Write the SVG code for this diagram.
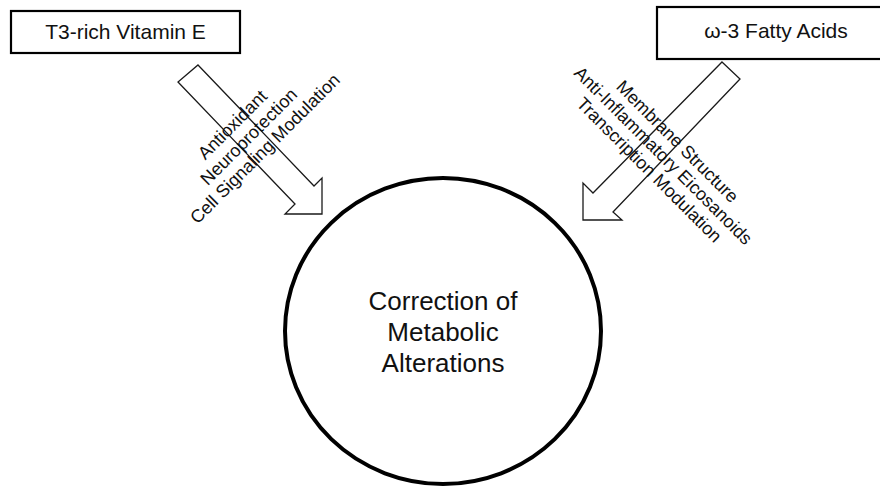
<svg xmlns="http://www.w3.org/2000/svg" width="880" height="488" viewBox="0 0 880 488">
  <style>
    .box { fill: #ffffff; stroke: #000000; stroke-width: 2.2; }
    .arrow { fill: #ffffff; stroke: #1a1a1a; stroke-width: 1.3; stroke-linejoin: miter; }
    .lbl { font-family: "Liberation Sans", Arial, sans-serif; fill: #111111; }
    .boxtxt { font-size: 21px; text-anchor: middle; }
    .diag { font-size: 18px; text-anchor: middle; }
    .center { font-size: 26px; text-anchor: middle; }
  </style>
  <rect width="880" height="488" fill="#ffffff"/>
  <g id="connectors">
    <polygon class="arrow" points="198,65 314,186 322,178 322,214 285,214 295,204 178,82"/>
    <polygon class="arrow" points="722,62 740,79 613,212 622,220 583,220 583,183 593,193"/>
  </g>
  <g id="node-vitamin-e">
    <rect class="box" x="11" y="11" width="229" height="42"/>
    <text class="lbl boxtxt" x="125.5" y="38.5">T3-rich Vitamin E</text>
  </g>
  <g id="node-omega3">
    <rect class="box" x="657" y="7" width="230" height="52"/>
    <text class="lbl boxtxt" x="776" y="37.5">ω-3 Fatty Acids</text>
  </g>
  <g id="node-correction">
    <ellipse cx="443" cy="331" rx="158" ry="153" fill="#ffffff" stroke="#000000" stroke-width="4"/>
    <text class="lbl center" x="443" y="310">Correction of</text>
    <text class="lbl center" x="443" y="341">Metabolic</text>
    <text class="lbl center" x="443" y="372">Alterations</text>
  </g>
  <g id="labels-vitamin-e" transform="translate(253,141) rotate(-45)">
    <text class="lbl diag" x="-3" y="-20">Antioxidant</text>
    <text class="lbl diag" x="0" y="0">Neuroprotection</text>
    <text class="lbl diag" x="3" y="20">Cell Signaling Modulation</text>
  </g>
  <g id="labels-omega3" transform="translate(659,160) rotate(45)">
    <text class="lbl diag" x="0" y="-20">Membrane Structure</text>
    <text class="lbl diag" x="0" y="0">Anti-Inflammatory Eicosanoids</text>
    <text class="lbl diag" x="0" y="20">Transcription Modulation</text>
  </g>
</svg>
